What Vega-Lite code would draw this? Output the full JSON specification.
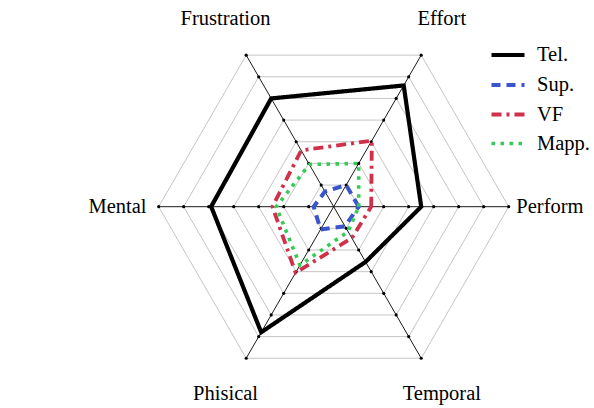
{
  "$schema": "https://vega.github.io/schema/vega-lite/v6.json",
  "width": 594,
  "height": 408,
  "padding": 0,
  "autosize": "none",
  "background": "white",
  "config": {"view": {"stroke": null}, "font": "Liberation Serif"},
  "datasets": {
    "scores": [
      {"series": "Tel.", "axis": "Perform", "value": 3.5},
      {"series": "Tel.", "axis": "Effort", "value": 5.6},
      {"series": "Tel.", "axis": "Frustration", "value": 5.0},
      {"series": "Tel.", "axis": "Mental", "value": 4.9},
      {"series": "Tel.", "axis": "Phisical", "value": 5.8},
      {"series": "Tel.", "axis": "Temporal", "value": 2.55},
      {"series": "Sup.", "axis": "Perform", "value": 1.0},
      {"series": "Sup.", "axis": "Effort", "value": 1.0},
      {"series": "Sup.", "axis": "Frustration", "value": 0.7},
      {"series": "Sup.", "axis": "Mental", "value": 0.8},
      {"series": "Sup.", "axis": "Phisical", "value": 1.05},
      {"series": "Sup.", "axis": "Temporal", "value": 0.9},
      {"series": "VF", "axis": "Perform", "value": 1.5},
      {"series": "VF", "axis": "Effort", "value": 3.05},
      {"series": "VF", "axis": "Frustration", "value": 2.6},
      {"series": "VF", "axis": "Mental", "value": 2.45},
      {"series": "VF", "axis": "Phisical", "value": 3.05},
      {"series": "VF", "axis": "Temporal", "value": 1.45},
      {"series": "Mapp.", "axis": "Perform", "value": 1.0},
      {"series": "Mapp.", "axis": "Effort", "value": 2.0},
      {"series": "Mapp.", "axis": "Frustration", "value": 1.95},
      {"series": "Mapp.", "axis": "Mental", "value": 2.3},
      {"series": "Mapp.", "axis": "Phisical", "value": 2.7},
      {"series": "Mapp.", "axis": "Temporal", "value": 1.15}
    ],
    "axes": [
      {"axis": "Perform", "levels": [1, 2, 3, 4, 5, 6, 7]},
      {"axis": "Effort", "levels": [1, 2, 3, 4, 5, 6, 7]},
      {"axis": "Frustration", "levels": [1, 2, 3, 4, 5, 6, 7]},
      {"axis": "Mental", "levels": [1, 2, 3, 4, 5, 6, 7]},
      {"axis": "Phisical", "levels": [1, 2, 3, 4, 5, 6, 7]},
      {"axis": "Temporal", "levels": [1, 2, 3, 4, 5, 6, 7]}
    ]
  },
  "layer": [
    {
      "data": {"name": "axes"},
      "transform": [
        {"flatten": ["levels"], "as": ["level"]},
        {"calculate": "indexof(['Perform','Effort','Frustration','Mental','Phisical','Temporal'], datum.axis)", "as": "i"},
        {"calculate": "datum.level * cos(datum.i * PI / 3)", "as": "px"},
        {"calculate": "datum.level * sin(datum.i * PI / 3)", "as": "py"}
      ],
      "mark": {"type": "line", "interpolate": "linear-closed", "color": "#bdbdbd", "strokeWidth": 0.9},
      "encoding": {
        "x": {"field": "px", "type": "quantitative", "scale": {"domain": [-13.348, 10.412], "nice": false, "zero": false}, "axis": null},
        "y": {"field": "py", "type": "quantitative", "scale": {"domain": [-8.052, 8.268], "nice": false, "zero": false}, "axis": null},
        "detail": {"field": "level", "type": "nominal"},
        "order": {"field": "i", "type": "quantitative"}
      }
    },
    {
      "data": {"name": "axes"},
      "transform": [
        {"calculate": "indexof(['Perform','Effort','Frustration','Mental','Phisical','Temporal'], datum.axis)", "as": "i"},
        {"calculate": "0", "as": "ox"},
        {"calculate": "7 * cos(datum.i * PI / 3)", "as": "ex"},
        {"calculate": "7 * sin(datum.i * PI / 3)", "as": "ey"}
      ],
      "mark": {"type": "rule", "color": "black", "strokeWidth": 0.9},
      "encoding": {
        "x": {"field": "ox", "type": "quantitative"},
        "y": {"field": "ox", "type": "quantitative"},
        "x2": {"field": "ex"},
        "y2": {"field": "ey"}
      }
    },
    {
      "data": {"name": "axes"},
      "transform": [
        {"flatten": ["levels"], "as": ["level"]},
        {"calculate": "indexof(['Perform','Effort','Frustration','Mental','Phisical','Temporal'], datum.axis)", "as": "i"},
        {"calculate": "datum.level * cos(datum.i * PI / 3)", "as": "px"},
        {"calculate": "datum.level * sin(datum.i * PI / 3)", "as": "py"}
      ],
      "mark": {"type": "point", "filled": true, "color": "black", "size": 10, "opacity": 1},
      "encoding": {
        "x": {"field": "px", "type": "quantitative"},
        "y": {"field": "py", "type": "quantitative"}
      }
    },
    {
      "data": {"name": "scores"},
      "transform": [
        {"calculate": "indexof(['Perform','Effort','Frustration','Mental','Phisical','Temporal'], datum.axis)", "as": "i"},
        {"calculate": "datum.value * cos(datum.i * PI / 3)", "as": "px"},
        {"calculate": "datum.value * sin(datum.i * PI / 3)", "as": "py"}
      ],
      "mark": {"type": "line", "interpolate": "linear-closed", "strokeCap": "butt", "strokeJoin": "miter"},
      "encoding": {
        "x": {"field": "px", "type": "quantitative"},
        "y": {"field": "py", "type": "quantitative"},
        "order": {"field": "i", "type": "quantitative"},
        "color": {
          "field": "series", "type": "nominal",
          "scale": {"domain": ["Tel.", "Sup.", "VF", "Mapp."], "range": ["#000000", "#3a55cc", "#d0304a", "#33cc55"]},
          "legend": {
            "title": null, "orient": "none", "legendX": 489, "legendY": 36,
            "symbolType": "stroke", "symbolSize": 1090, "symbolStrokeWidth": 3.8,
            "labelFont": "Liberation Serif", "labelFontSize": 20.5, "labelColor": "black",
            "labelOffset": 10, "rowPadding": -13
          }
        },
        "strokeDash": {
          "field": "series", "type": "nominal",
          "scale": {"domain": ["Tel.", "Sup.", "VF", "Mapp."], "range": [[1, 0], [9, 6], [10, 5, 3, 5], [3.5, 5.5]]},
          "legend": {
            "title": null, "orient": "none", "legendX": 489, "legendY": 36,
            "symbolType": "stroke", "symbolSize": 1090, "symbolStrokeWidth": 3.8,
            "labelFont": "Liberation Serif", "labelFontSize": 20.5, "labelColor": "black",
            "labelOffset": 10, "rowPadding": -13
          }
        },
        "strokeWidth": {
          "field": "series", "type": "nominal",
          "scale": {"domain": ["Tel.", "Sup.", "VF", "Mapp."], "range": [4.2, 3.6, 3.6, 3.6]},
          "legend": null
        }
      }
    },
    {
      "data": {"name": "axes"},
      "transform": [
        {"calculate": "indexof(['Perform','Effort','Frustration','Mental','Phisical','Temporal'], datum.axis)", "as": "i"},
        {"calculate": "8.65 * cos(datum.i * PI / 3)", "as": "lx"},
        {"calculate": "8.65 * sin(datum.i * PI / 3)", "as": "ly"}
      ],
      "mark": {"type": "text", "font": "Liberation Serif", "fontSize": 20.5, "color": "black", "align": "center", "baseline": "middle"},
      "encoding": {
        "x": {"field": "lx", "type": "quantitative"},
        "y": {"field": "ly", "type": "quantitative"},
        "text": {"field": "axis", "type": "nominal"}
      }
    }
  ]
}
